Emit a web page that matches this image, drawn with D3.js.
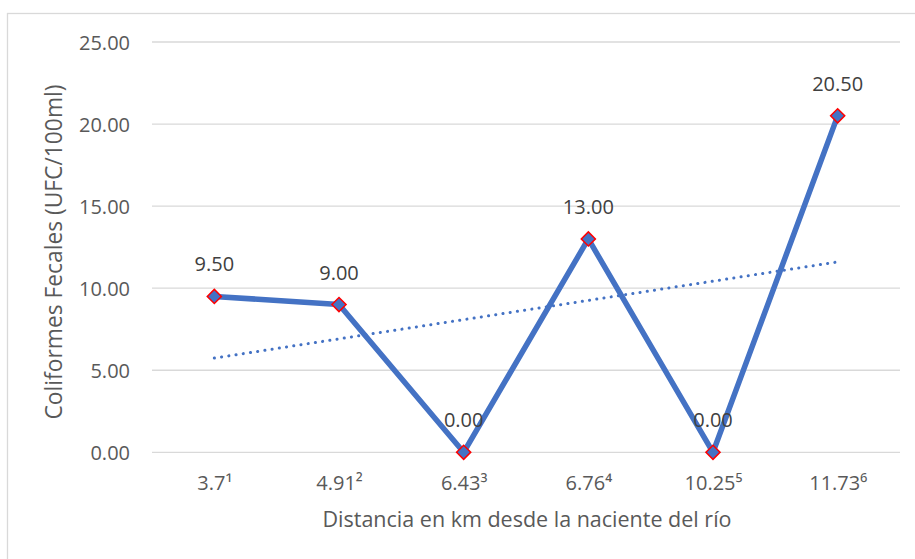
<!DOCTYPE html>
<html><head><meta charset="utf-8">
<script src="https://cdn.jsdelivr.net/npm/d3@7"></script>
<style>body{margin:0;background:#fff;}svg{display:block;font-family:"Open Sans",sans-serif;}</style>
</head><body>
<svg id="c" width="915" height="559"></svg>
<script>
const categories = ["3.7", "4.91", "6.43", "6.76", "10.25", "11.73"];
const superscripts = ["¹", "²", "³", "⁴", "⁵", "⁶"];
const values = [9.5, 9.0, 0.0, 13.0, 0.0, 20.5];
const yTicks = [0, 5, 10, 15, 20, 25];
const trendEnds = [5.74, 11.6];

(function () {
const svg = d3.select("#c");
const pL = 152, pR = 900, pT = 42, pB = 452.3;
const FONT = "'Open Sans',sans-serif";

svg.append("rect").attr("x", 7.5).attr("y", 13.5).attr("width", 915).attr("height", 560)
  .attr("fill", "#fff").attr("stroke", "#d9d9d9").attr("stroke-width", 1.3);

const x = d3.scalePoint().domain(categories).range([pL, pR]).padding(0.5);
const y = d3.scaleLinear().domain([0, 25]).range([pB, pT]);

svg.append("g").selectAll("line").data(yTicks).join("line")
  .attr("x1", pL).attr("x2", pR)
  .attr("y1", d => y(d)).attr("y2", d => y(d))
  .attr("stroke", "#d9d9d9").attr("stroke-width", 1.3);

const yAxis = svg.append("g").attr("transform", `translate(130,0)`)
  .call(d3.axisLeft(y).tickValues(yTicks).tickFormat(d3.format(".2f")).tickSize(0));
yAxis.select(".domain").remove();
yAxis.selectAll("text").attr("fill", "#595959").style("font-size", "20px")
  .style("font-family", FONT).attr("dy", "0.35em").attr("x", 0);

const xAxis = svg.append("g").attr("transform", `translate(0,483)`)
  .call(d3.axisBottom(x).tickSize(0).tickFormat((d, i) => d + superscripts[i]));
xAxis.select(".domain").remove();
xAxis.selectAll("text").attr("fill", "#595959").style("font-size", "20px")
  .style("font-family", FONT).attr("dy", "0.35em").attr("y", 0);

svg.append("text").attr("x", 527).attr("y", 519).attr("text-anchor", "middle")
  .attr("dy", "0.35em").attr("fill", "#595959").style("font-size", "21.5px")
  .text("Distancia en km desde la naciente del río");
svg.append("text").attr("transform", `translate(54,252) rotate(-90)`)
  .attr("text-anchor", "middle").attr("dy", "0.35em").attr("fill", "#595959").style("font-size", "22.8px")
  .text("Coliformes Fecales (UFC/100ml)");

svg.append("line")
  .attr("x1", x(categories[0])).attr("y1", y(trendEnds[0]))
  .attr("x2", x(categories[categories.length - 1])).attr("y2", y(trendEnds[1]))
  .attr("stroke", "#4472C4").attr("stroke-width", 3)
  .attr("stroke-dasharray", "0.1 7.2").attr("stroke-linecap", "round");

const line = d3.line().x((d, i) => x(categories[i])).y(d => y(d));
svg.append("path").datum(values).attr("d", line)
  .attr("fill", "none").attr("stroke", "#4472C4").attr("stroke-width", 5.5)
  .attr("stroke-linejoin", "round").attr("stroke-linecap", "round");

svg.append("g").selectAll("path").data(values).join("path")
  .attr("transform", (d, i) => `translate(${x(categories[i])},${y(d)}) rotate(45)`)
  .attr("d", d3.symbol().type(d3.symbolSquare).size(100))
  .attr("fill", "#4472C4").attr("stroke", "#FF0000").attr("stroke-width", 1.5);

svg.append("g").selectAll("text").data(values).join("text")
  .attr("x", (d, i) => x(categories[i])).attr("y", d => y(d) - 32)
  .attr("text-anchor", "middle").attr("dy", "0.35em")
  .attr("fill", "#404040").style("font-size", "20px").style("font-family", FONT)
  .text(d => d3.format(".2f")(d));
})();
</script>
</body></html>
